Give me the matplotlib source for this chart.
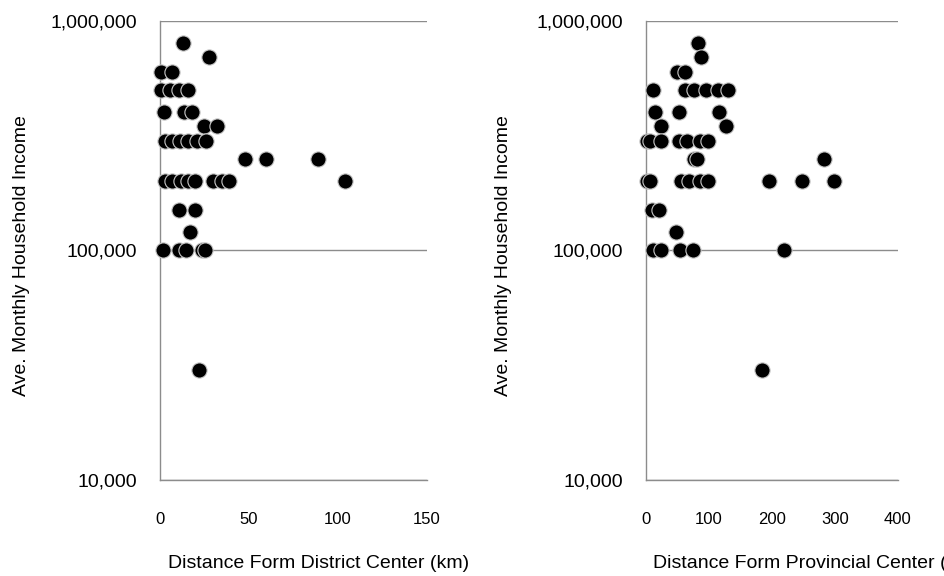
import matplotlib
matplotlib.use("Agg")
import matplotlib.pyplot as plt
from matplotlib.ticker import FixedLocator, FixedFormatter

# distance from district center (km) and monthly household income
dist_district = [13, 28, 1, 7, 1, 6, 11, 16, 2.5, 14, 18, 25, 32,
                 3, 7, 11.5, 16, 21, 26, 48, 60, 89,
                 3, 7, 12, 16, 20, 30, 35, 39, 104,
                 11, 20, 17, 2, 11, 15, 24, 25.5, 22]
income_district = [800000, 700000, 600000, 600000,
                   500000, 500000, 500000, 500000,
                   400000, 400000, 400000, 350000, 350000,
                   300000, 300000, 300000, 300000, 300000, 300000,
                   250000, 250000, 250000,
                   200000, 200000, 200000, 200000, 200000, 200000, 200000, 200000, 200000,
                   150000, 150000, 120000,
                   100000, 100000, 100000, 100000, 100000, 30000]

# distance from provincial center (km) and monthly household income
dist_province = [83.5, 88, 50, 62, 12, 62, 77, 96, 115, 130,
                 14, 53, 117, 25, 128,
                 2, 7, 25, 53, 65, 86, 99, 77, 82, 283,
                 2, 7, 56, 68, 86, 99, 196, 248, 299,
                 10, 21, 48, 12, 24, 54, 75, 219, 185]
income_province = [800000, 700000, 600000, 600000,
                   500000, 500000, 500000, 500000, 500000, 500000,
                   400000, 400000, 400000, 350000, 350000,
                   300000, 300000, 300000, 300000, 300000, 300000, 300000,
                   250000, 250000, 250000,
                   200000, 200000, 200000, 200000, 200000, 200000, 200000, 200000, 200000,
                   150000, 150000, 120000,
                   100000, 100000, 100000, 100000, 100000, 30000]

y_ticks = [10000, 100000, 1000000]
y_labels = ["10,000", "100,000", "1,000,000"]
x_ticks_district = [0, 50, 100, 150]
x_ticks_province = [0, 100, 200, 300, 400]

font = "Liberation Sans"

fig = plt.figure(figsize=(9.45, 5.76), dpi=100)
ax1 = fig.add_axes([0.1688, 0.1667, 0.2828, 0.7969])
ax2 = fig.add_axes([0.6833, 0.1667, 0.2667, 0.7969])

panels = [
    (ax1, dist_district, income_district, x_ticks_district, 150,
     "Distance Form District Center (km)", -0.515),
    (ax2, dist_province, income_province, x_ticks_province, 400,
     "Distance Form Provincial Center (km)", -0.566),
]

grey = "#8c8c8c"
for ax, xs, ys, xt, xmax, xlabel, ylab_x in panels:
    ax.set_yscale("log")
    ax.set_ylim(10000, 1000000)
    ax.set_xlim(0, xmax)
    ax.yaxis.set_major_locator(FixedLocator(y_ticks))
    ax.yaxis.set_major_formatter(FixedFormatter(y_labels))
    ax.yaxis.set_minor_locator(FixedLocator([]))
    ax.set_xticks(xt)
    ax.set_xticklabels([str(t) for t in xt])

    for s in ["top", "right"]:
        ax.spines[s].set_visible(False)
    for s in ["left", "bottom"]:
        ax.spines[s].set_color(grey)
        ax.spines[s].set_linewidth(1.0)

    ax.grid(True, axis="y", color=grey, linewidth=1.0)
    ax.set_axisbelow(True)
    ax.tick_params(axis="both", length=0)
    ax.tick_params(axis="y", pad=16)
    ax.tick_params(axis="x", pad=23)
    for lab in ax.get_yticklabels():
        lab.set_fontfamily(font)
        lab.set_fontsize(14)
    for lab in ax.get_xticklabels():
        lab.set_fontfamily(font)
        lab.set_fontsize(12)

    ax.scatter(xs, ys, s=120, c="black", edgecolors="#c8c8c8",
               linewidths=0.8, clip_on=False, zorder=3)

    ax.set_xlabel(xlabel, fontfamily=font, fontsize=14, ha="left", va="center")
    ax.xaxis.set_label_coords(0.03, -0.182)
    ax.set_ylabel("Ave. Monthly Household Income", fontfamily=font,
                  fontsize=14, va="center")
    ax.yaxis.set_label_coords(ylab_x, 0.49)

fig.savefig("out.png", dpi=100)
